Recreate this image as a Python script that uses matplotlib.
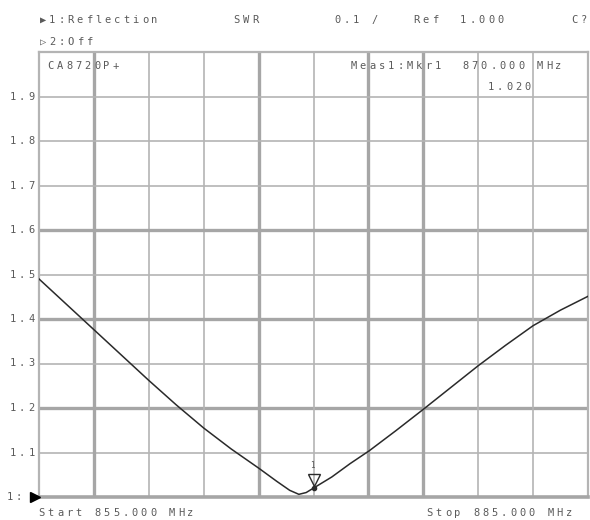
import matplotlib
matplotlib.use('Agg')
import matplotlib.pyplot as plt
import matplotlib.transforms as mtransforms

# trace (MHz, SWR)
FREQS = [855.0, 856.5, 858.0, 859.5, 861.0, 862.5, 864.0, 865.5, 867.0, 868.0,
         868.7, 869.2, 869.6, 870.0, 871.0, 872.0, 873.05, 874.5, 876.0, 877.5,
         879.0, 880.5, 882.0, 883.5, 885.0]
SWR = [1.490, 1.433, 1.376, 1.319, 1.262, 1.207, 1.155, 1.108, 1.065, 1.035,
       1.015, 1.006, 1.010, 1.020, 1.045, 1.075, 1.104, 1.149, 1.197, 1.246,
       1.295, 1.341, 1.385, 1.420, 1.451]

MKR_FREQ = 870.0
MKR_VAL = 1.020

START, STOP = 855.0, 885.0
REF, SCALE = 1.0, 0.1
Y_LABELS = ['1.1', '1.2', '1.3', '1.4', '1.5', '1.6', '1.7', '1.8', '1.9']

W, H = 590, 520
TEXT_COLOR = '#5a5a5a'
GRID_COLOR = '#b4b4b4'
THICK_COLOR = '#a6a6a6'
TRACE_COLOR = '#2a2a2a'
FONTS = ['DejaVu Sans Mono', 'DejaVu Sans']
PITCH = 9.3  # instrument character cell, px


def mono(fig, x, y, s, size=7.5, color=TEXT_COLOR):
    # fixed-pitch screen text, one cell per character
    for i, ch in enumerate(s):
        if ch == ' ':
            continue
        fig.text((x + i * PITCH + PITCH / 2) / W, 1 - y / H, ch, ha='center',
                 va='center', fontsize=size, color=color, family=FONTS)


fig = plt.figure(figsize=(W / 100, H / 100), dpi=100)
ax = fig.add_axes([39 / W, 23 / H, 549 / W, 445 / H])
ax.set_xlim(START, STOP)
ax.set_ylim(REF, REF + 10 * SCALE)

# graticule: 10 x 10 divisions, some lines heavier like the scanned screen
thick_h = {2, 4, 6}
thick_v = {1, 4, 6, 7}
for i in range(1, 10):
    y = REF + i * SCALE
    if i in thick_h:
        ax.axhline(y, color=THICK_COLOR, lw=2.4, zorder=1)
    else:
        ax.axhline(y, color=GRID_COLOR, lw=1.2, zorder=1)
    x = START + i * (STOP - START) / 10
    if i in thick_v:
        ax.axvline(x, color=THICK_COLOR, lw=2.4, zorder=1)
    else:
        ax.axvline(x, color=GRID_COLOR, lw=1.2, zorder=1)

for s in ax.spines.values():
    s.set_color(GRID_COLOR)
    s.set_linewidth(1.6)
ax.spines['bottom'].set_linewidth(2.6)
ax.spines['bottom'].set_color(THICK_COLOR)
ax.set_xticks([])
ax.set_yticks([])

ax.plot(FREQS, SWR, color=TRACE_COLOR, lw=1.1, zorder=3)

# marker 1 (hollow triangle sitting on the trace)
off = mtransforms.offset_copy(ax.transData, fig=fig, x=0, y=5.5, units='points')
ax.plot([MKR_FREQ], [MKR_VAL], marker='v', ms=9, mfc='none', mec=TRACE_COLOR,
        mew=1.0, transform=off, zorder=4, clip_on=False)
ax.plot([MKR_FREQ], [MKR_VAL], marker='o', ms=3, color=TRACE_COLOR, zorder=4)
ax.text(MKR_FREQ, MKR_VAL, '1', transform=mtransforms.offset_copy(
    ax.transData, fig=fig, x=-1, y=13, units='points'),
    ha='center', va='bottom', fontsize=5.5, color=TEXT_COLOR, family=FONTS)

# y labels (right edge of the text just left of the graticule)
for i, lab in enumerate(Y_LABELS, start=1):
    ypx = 52 + 445 * (1 - i / 10)
    mono(fig, 36 - len(lab) * PITCH, ypx, lab)
mono(fig, 5, 497, '1:')
ax.plot([0], [0], marker='>', ms=7, color='black', clip_on=False, zorder=5,
        transform=mtransforms.offset_copy(ax.transAxes, fig=fig, x=-3,
                                          y=0, units='points'))

# header and footer annotations
mono(fig, 38, 20, '\u25b61:Reflection')
mono(fig, 38, 42, '\u25b72:Off')
mono(fig, 232, 20, 'SWR')
mono(fig, 333, 20, '0.1 /')
mono(fig, 412, 20, 'Ref  1.000')
mono(fig, 570, 20, 'C?')
mono(fig, 46, 66, 'CA8720P+')
mono(fig, 349, 66, 'Meas1:Mkr1  870.000 MHz')
mono(fig, 486, 87, '1.020')
mono(fig, 37, 513, 'Start 855.000 MHz')
mono(fig, 425, 513, 'Stop 885.000 MHz')

fig.savefig('out.png', dpi=100, facecolor='white')
